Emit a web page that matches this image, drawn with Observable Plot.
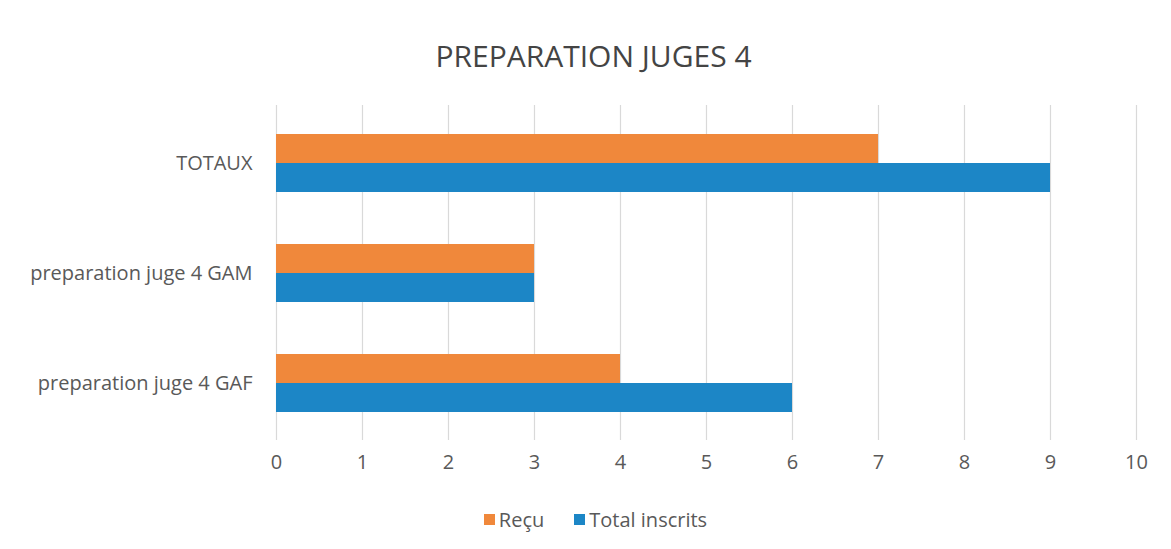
<!DOCTYPE html>
<html>
<head>
<meta charset="utf-8">
<script src="https://cdn.jsdelivr.net/npm/d3@7"></script>
<script src="https://cdn.jsdelivr.net/npm/@observablehq/plot@0.6"></script>
<style>
  html, body { margin: 0; padding: 0; background: #fff; }
  body { width: 1171px; height: 549px; overflow: hidden; font-family: "Open Sans", sans-serif; }
  #title { height: 100px; box-sizing: border-box; padding-top: 36px; text-align: center; font-size: 30px; color: #444; line-height: 40px; padding-left: 16px; }
  #legend { display: flex; justify-content: center; align-items: center; gap: 30px; margin-top: 26px; font-size: 20px; color: #595959; padding-left: 20px; }
  #legend span.sw { display: inline-block; width: 11px; height: 11px; margin-right: 4px; }
  #legend .item { display: flex; align-items: center; }
</style>
</head>
<body>
<div id="title">PREPARATION JUGES 4</div>
<div id="chart"></div>
<div id="legend"></div>
<script>
const categories = ["TOTAUX", "preparation juge 4 GAM", "preparation juge 4 GAF"];
const recu = [7, 3, 4];
const totalInscrits = [9, 3, 6];
const seriesNames = ["Reçu", "Total inscrits"];
const seriesColors = ["#F0883B", "#1C86C6"];
const xTicks = [0, 1, 2, 3, 4, 5, 6, 7, 8, 9, 10];

const rowsRecu = categories.map((c, i) => ({category: c, value: recu[i]}));
const rowsTotal = categories.map((c, i) => ({category: c, value: totalInscrits[i]}));

const chart = Plot.plot({
  width: 1171,
  height: 380,
  marginLeft: 276,
  marginRight: 35,
  marginTop: 5,
  marginBottom: 40,
  style: {fontFamily: "'Open Sans', sans-serif", fontSize: "20px", color: "#595959", background: "#fff"},
  x: {domain: [0, 10], ticks: xTicks, label: null},
  y: {domain: categories, paddingInner: 0.473, paddingOuter: 0.259, label: null},
  marks: [
    Plot.ruleX(xTicks, {stroke: "#d9d9d9", strokeWidth: 1.2}),
    Plot.barX(rowsRecu, {x: "value", y: "category", fill: seriesColors[0], insetBottom: 29}),
    Plot.barX(rowsTotal, {x: "value", y: "category", fill: seriesColors[1], insetTop: 29}),
    Plot.axisX({ticks: xTicks, tickSize: 0, tickPadding: 14, fontSize: 20, fill: "#595959", label: null}),
    Plot.axisY({tickSize: 0, tickPadding: 24, fontSize: 20, fill: "#595959", label: null})
  ]
});
document.getElementById("chart").appendChild(chart);

const legend = document.getElementById("legend");
seriesNames.forEach((n, i) => {
  const item = document.createElement("div");
  item.className = "item";
  const sw = document.createElement("span");
  sw.className = "sw";
  sw.style.background = seriesColors[i];
  item.appendChild(sw);
  item.appendChild(document.createTextNode(n));
  legend.appendChild(item);
});
</script>
</body>
</html>
